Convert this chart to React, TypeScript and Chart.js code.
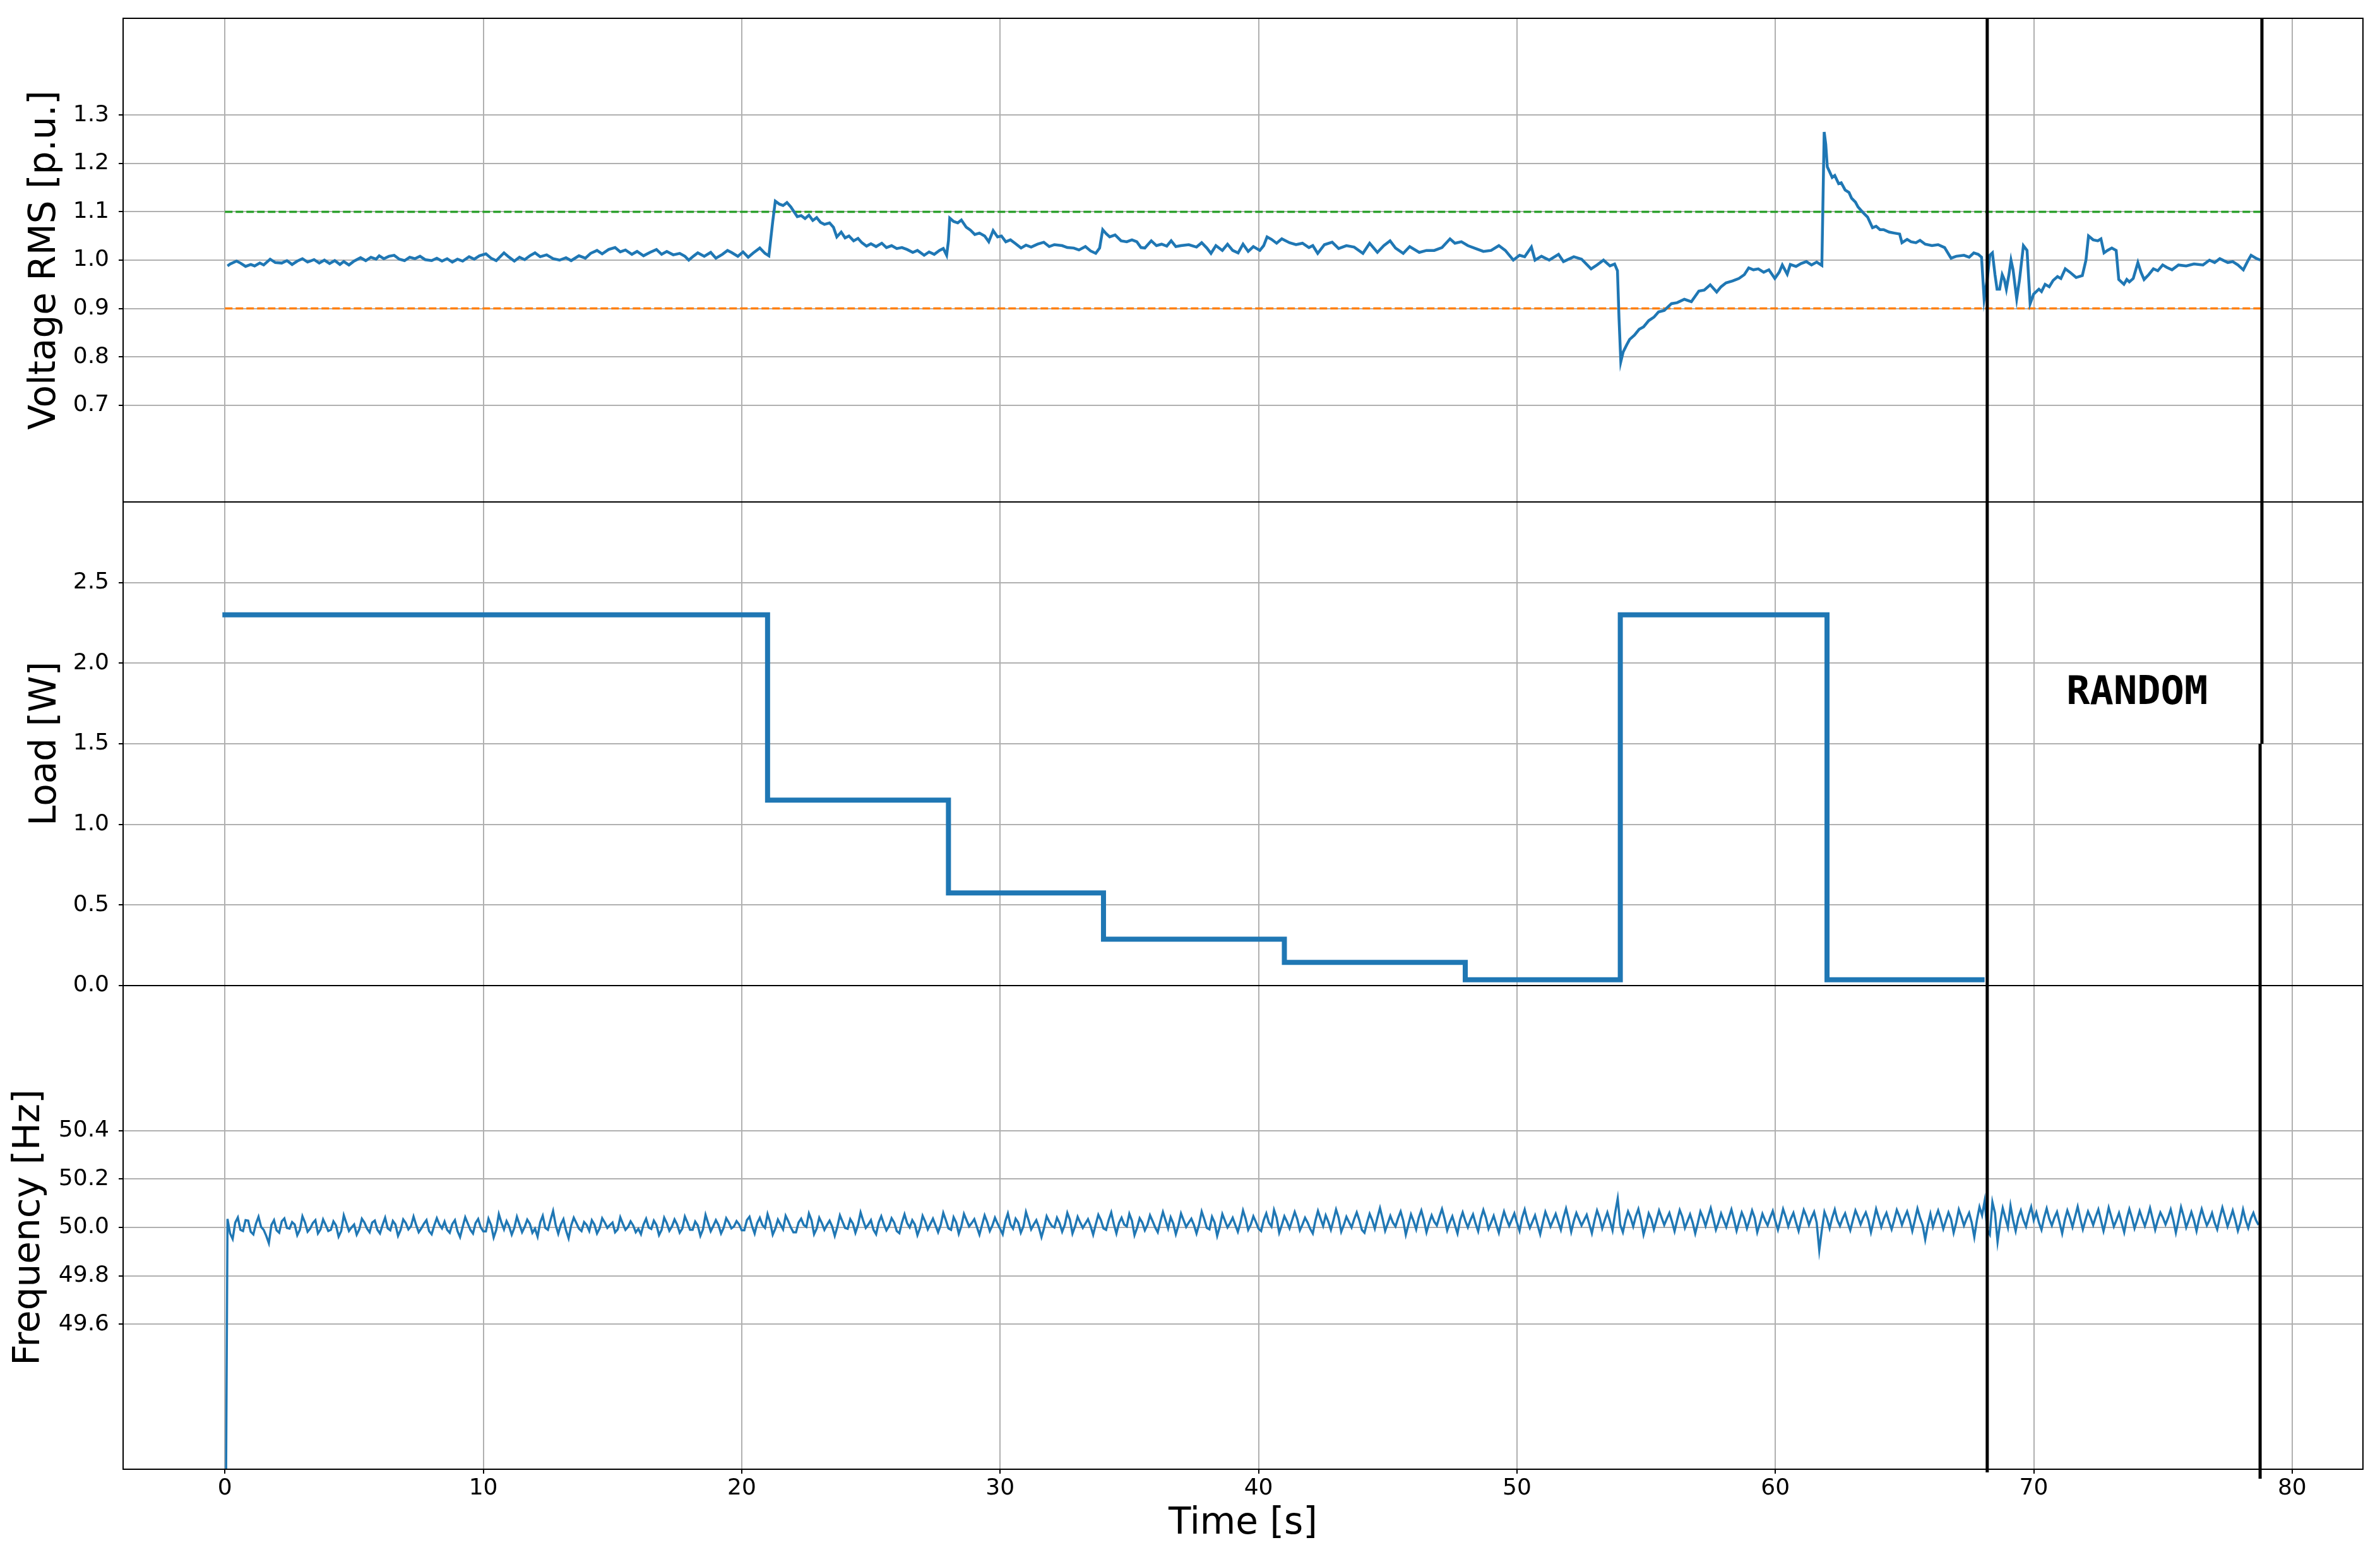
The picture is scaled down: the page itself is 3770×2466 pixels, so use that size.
import React, { useEffect, useRef } from 'react';
import { Chart, registerables } from 'chart.js';

Chart.register(...registerables);

// ---------- axis ticks ----------
const X_TICKS = [0, 10, 20, 30, 40, 50, 60, 70, 80];
const VOLTAGE_TICKS = [0.7, 0.8, 0.9, 1.0, 1.1, 1.2, 1.3];
const LOAD_TICKS = [0, 0.5, 1.0, 1.5, 2.0, 2.5];
const FREQ_TICKS = [49.6, 49.8, 50.0, 50.2, 50.4];

// ---------- voltage limits ----------
const VOLTAGE_UPPER = 1.1;
const VOLTAGE_LOWER = 0.9;
const LIMIT_SPAN = [0, 78.8];

// ---------- load steps ----------
const LOAD_STEP_TIMES = [0, 21, 28, 34, 41, 48, 54, 62];
const LOAD_STEP_VALUES = [2.3, 1.15, 0.575, 0.2875, 0.144, 0.036, 2.3, 0.036];
const LOAD_END_TIME = 68;

// ---------- random window markers ----------
const RANDOM_WINDOW = [68.2, 78.83];
const RANDOM_LABEL = 'RANDOM';

// ---------- voltage RMS [time s, p.u.] ----------
const voltage: [number, number][] = [
  [0.1, 0.988], [0.2, 0.992], [0.45, 0.998], [0.6, 0.994], [0.8, 0.987], [1.0, 0.991], [1.15, 0.988], [1.35, 0.994],
  [1.5, 0.99], [1.75, 1.002], [1.95, 0.995], [2.2, 0.994], [2.4, 0.999], [2.6, 0.991], [2.8, 0.998], [3.0, 1.003],
  [3.2, 0.996], [3.45, 1.001], [3.65, 0.994], [3.85, 1.0], [4.05, 0.993], [4.25, 0.999], [4.45, 0.991], [4.6, 0.997],
  [4.8, 0.99], [5.0, 0.998], [5.25, 1.005], [5.45, 0.999], [5.65, 1.006], [5.85, 1.002], [5.97, 1.009], [6.15, 1.003],
  [6.35, 1.008], [6.55, 1.01], [6.75, 1.002], [6.95, 0.999], [7.15, 1.006], [7.35, 1.003], [7.55, 1.008], [7.75, 1.001],
  [8.0, 0.999], [8.2, 1.004], [8.4, 0.998], [8.6, 1.003], [8.8, 0.996], [9.0, 1.002], [9.2, 0.998], [9.45, 1.007],
  [9.65, 1.002], [9.85, 1.009], [10.1, 1.013], [10.3, 1.004], [10.5, 0.999], [10.8, 1.015], [11.0, 1.006], [11.2, 0.998],
  [11.4, 1.006], [11.6, 1.001], [11.8, 1.009], [12.0, 1.015], [12.2, 1.007], [12.45, 1.011], [12.7, 1.003], [12.95, 1.0],
  [13.2, 1.005], [13.4, 0.999], [13.7, 1.009], [13.95, 1.004], [14.15, 1.014], [14.4, 1.02], [14.6, 1.013], [14.85, 1.022],
  [15.1, 1.026], [15.3, 1.017], [15.5, 1.021], [15.75, 1.012], [15.95, 1.018], [16.2, 1.009], [16.45, 1.016], [16.7, 1.022],
  [16.9, 1.012], [17.1, 1.018], [17.35, 1.011], [17.6, 1.014], [17.8, 1.008], [17.95, 1.0], [18.15, 1.009], [18.3, 1.015],
  [18.55, 1.008], [18.8, 1.016], [19.0, 1.004], [19.25, 1.012], [19.45, 1.02], [19.6, 1.016], [19.85, 1.008], [20.05, 1.017],
  [20.25, 1.006], [20.45, 1.015], [20.7, 1.025], [20.9, 1.014], [21.05, 1.009],
  [21.2, 1.08], [21.3, 1.122], [21.45, 1.116], [21.6, 1.113], [21.75, 1.119], [21.9, 1.11], [22.05, 1.098], [22.15, 1.09],
  [22.3, 1.092], [22.45, 1.086], [22.6, 1.093], [22.75, 1.082], [22.9, 1.088], [23.05, 1.078], [23.2, 1.074], [23.4, 1.077],
  [23.55, 1.068], [23.68, 1.048], [23.85, 1.058], [24.0, 1.046], [24.15, 1.05], [24.33, 1.04], [24.5, 1.045], [24.65, 1.036],
  [24.83, 1.029], [25.0, 1.034], [25.2, 1.028], [25.42, 1.035], [25.6, 1.026], [25.8, 1.03], [26.0, 1.024], [26.2, 1.026],
  [26.4, 1.022], [26.62, 1.016], [26.8, 1.02], [27.06, 1.01], [27.25, 1.017], [27.45, 1.012], [27.65, 1.02], [27.8, 1.024],
  [27.93, 1.01],
  [28.0, 1.04], [28.05, 1.087], [28.2, 1.08], [28.36, 1.077], [28.5, 1.083], [28.69, 1.068], [28.85, 1.062], [29.02, 1.053],
  [29.2, 1.056], [29.4, 1.05], [29.56, 1.038], [29.73, 1.061], [29.9, 1.048], [30.05, 1.05], [30.22, 1.038], [30.4, 1.042],
  [30.6, 1.034], [30.81, 1.025], [31.0, 1.031], [31.2, 1.027], [31.45, 1.033], [31.69, 1.037], [31.9, 1.028], [32.1, 1.032],
  [32.4, 1.03], [32.6, 1.026], [32.85, 1.025], [33.05, 1.021], [33.3, 1.028], [33.5, 1.019], [33.7, 1.014], [33.85, 1.025],
  [33.97, 1.063], [34.1, 1.055], [34.24, 1.048], [34.45, 1.052], [34.68, 1.04], [34.9, 1.038], [35.1, 1.042], [35.29, 1.038],
  [35.45, 1.026], [35.6, 1.025], [35.85, 1.04], [36.05, 1.03], [36.25, 1.033], [36.45, 1.029], [36.62, 1.04], [36.8, 1.028],
  [37.0, 1.03], [37.3, 1.032], [37.6, 1.027], [37.8, 1.036], [38.0, 1.025], [38.16, 1.014], [38.35, 1.03], [38.6, 1.02],
  [38.8, 1.033], [39.0, 1.02], [39.21, 1.015], [39.4, 1.033], [39.6, 1.018], [39.8, 1.028], [40.05, 1.02], [40.2, 1.03],
  [40.33, 1.048], [40.5, 1.043], [40.7, 1.035], [40.9, 1.044], [41.2, 1.036], [41.45, 1.032], [41.7, 1.035], [41.95, 1.026],
  [42.1, 1.03], [42.29, 1.014], [42.55, 1.032], [42.85, 1.037], [43.1, 1.024], [43.4, 1.03], [43.7, 1.027], [44.04, 1.014],
  [44.3, 1.035], [44.6, 1.016], [44.85, 1.03], [45.09, 1.04], [45.3, 1.025], [45.6, 1.014], [45.85, 1.028], [46.22, 1.016],
  [46.5, 1.02], [46.8, 1.02], [47.1, 1.026], [47.41, 1.044], [47.6, 1.035], [47.85, 1.038], [48.1, 1.03], [48.4, 1.024],
  [48.7, 1.018], [49.0, 1.02], [49.3, 1.03], [49.55, 1.02], [49.86, 1.0], [50.1, 1.01], [50.3, 1.007], [50.56, 1.027],
  [50.7, 1.0], [50.95, 1.008], [51.25, 1.0], [51.61, 1.012], [51.8, 0.997], [52.2, 1.007], [52.5, 1.002], [52.87, 0.982],
  [53.1, 0.99], [53.35, 1.0], [53.6, 0.988], [53.78, 0.992], [53.89, 0.978],
  [53.95, 0.88], [54.02, 0.79], [54.11, 0.81], [54.25, 0.825], [54.36, 0.836], [54.55, 0.845], [54.73, 0.857], [54.9, 0.862],
  [55.1, 0.875], [55.3, 0.882], [55.48, 0.893], [55.7, 0.896], [55.98, 0.91], [56.2, 0.912], [56.48, 0.919], [56.75, 0.914],
  [57.04, 0.936], [57.25, 0.938], [57.48, 0.949], [57.73, 0.934], [57.9, 0.945], [58.09, 0.953], [58.35, 0.957], [58.59, 0.962],
  [58.8, 0.97], [58.97, 0.984], [59.15, 0.98], [59.34, 0.982], [59.55, 0.975], [59.75, 0.98], [59.98, 0.962], [60.15, 0.975],
  [60.27, 0.99], [60.46, 0.971], [60.58, 0.991], [60.8, 0.987], [61.0, 0.993], [61.2, 0.997], [61.4, 0.99], [61.6, 0.996],
  [61.8, 0.989],
  [61.89, 1.265], [61.95, 1.24], [62.01, 1.193], [62.2, 1.171], [62.3, 1.175], [62.45, 1.158], [62.55, 1.16], [62.7, 1.145],
  [62.85, 1.14], [62.95, 1.128], [63.1, 1.12], [63.2, 1.11], [63.4, 1.098], [63.57, 1.089], [63.76, 1.067], [63.9, 1.07],
  [64.05, 1.063], [64.19, 1.063], [64.4, 1.058], [64.6, 1.056], [64.81, 1.054], [64.9, 1.036], [65.1, 1.043], [65.25, 1.038],
  [65.44, 1.036], [65.6, 1.041], [65.8, 1.033], [66.06, 1.03], [66.3, 1.032], [66.55, 1.026], [66.8, 1.004], [67.0, 1.008],
  [67.3, 1.01], [67.5, 1.006], [67.68, 1.015], [67.85, 1.012], [67.98, 1.006],
  [68.08, 0.919], [68.2, 0.96], [68.3, 1.01], [68.4, 1.015], [68.5, 0.97], [68.58, 0.94], [68.68, 0.94], [68.78, 0.97],
  [68.86, 0.96], [68.94, 0.94], [69.04, 0.97], [69.12, 1.0], [69.2, 0.98], [69.34, 0.92], [69.45, 0.96], [69.6, 1.03],
  [69.74, 1.02], [69.86, 0.91], [70.0, 0.93], [70.2, 0.94], [70.3, 0.935], [70.44, 0.95], [70.6, 0.945], [70.75, 0.958],
  [70.92, 0.966], [71.05, 0.962], [71.22, 0.982], [71.4, 0.975], [71.64, 0.964], [71.88, 0.968], [72.02, 1.0], [72.12, 1.05],
  [72.3, 1.042], [72.48, 1.04], [72.6, 1.044], [72.72, 1.015], [72.85, 1.02], [73.02, 1.025], [73.19, 1.02], [73.29, 0.96],
  [73.49, 0.95], [73.6, 0.96], [73.7, 0.955], [73.85, 0.962], [74.03, 0.995], [74.15, 0.975], [74.27, 0.96], [74.45, 0.97],
  [74.63, 0.982], [74.8, 0.978], [74.99, 0.99], [75.15, 0.985], [75.35, 0.98], [75.6, 0.99], [75.9, 0.988], [76.2, 0.992],
  [76.55, 0.99], [76.8, 1.0], [77.0, 0.995], [77.2, 1.003], [77.51, 0.995], [77.7, 0.997], [77.9, 0.99], [78.11, 0.98],
  [78.3, 1.0], [78.41, 1.01], [78.6, 1.004], [78.77, 1.0],
];

// ---------- frequency [Hz], sampled every 0.1 s from t = 0.1 s ----------
const FREQ_START: [number, number] = [0.02, 48.5];
const FREQ_T0 = 0.1;
const FREQ_DT = 0.1;
const frequency: number[] = [
  50.035, 49.975, 49.952, 50.020, 50.041, 49.990, 49.985, 50.030, 50.028, 49.982, 49.971, 50.015, 50.044, 50.002, 49.990, 49.965, 49.935, 50.010, 50.030, 49.988,
  49.978, 50.025, 50.037, 49.998, 49.995, 50.022, 50.012, 49.968, 49.990, 50.046, 50.020, 49.982, 49.995, 50.018, 50.030, 49.975, 49.992, 50.033, 50.010, 49.985,
  49.990, 50.025, 50.008, 49.962, 49.985, 50.050, 50.018, 49.985, 50.000, 50.012, 49.970, 49.992, 50.036, 50.020, 49.995, 49.980, 50.020, 50.028, 49.990, 49.975,
  50.010, 50.040, 49.996, 49.988, 50.027, 50.012, 49.965, 49.990, 50.033, 50.018, 49.992, 50.005, 50.045, 50.010, 49.980, 49.996, 50.015, 50.030, 49.985, 49.972,
  50.008, 50.038, 50.012, 49.996, 50.024, 49.990, 49.978, 50.014, 50.030, 49.985, 49.960, 50.002, 50.042, 50.016, 49.990, 49.975, 50.018, 50.035, 50.000, 49.984,
  49.984, 50.036, 50.010, 49.958, 49.990, 50.055, 50.020, 49.992, 50.026, 50.004, 49.970, 49.998, 50.044, 50.012, 49.980, 50.002, 50.032, 50.015, 49.978, 49.995,
  49.962, 50.020, 50.048, 49.998, 49.990, 50.030, 50.068, 50.010, 49.974, 50.012, 50.034, 49.988, 49.955, 50.008, 50.040, 50.018, 49.995, 49.985, 50.022, 50.010,
  49.985, 50.030, 50.012, 49.975, 49.996, 50.038, 50.020, 49.998, 50.010, 50.020, 49.980, 49.992, 50.042, 50.015, 49.990, 50.002, 50.025, 50.008, 49.980, 49.994,
  49.972, 50.012, 50.036, 50.000, 49.994, 50.028, 50.010, 49.968, 49.990, 50.040, 50.018, 49.986, 50.004, 50.033, 50.012, 49.978, 49.995, 50.045, 50.020, 49.990,
  49.990, 50.024, 50.008, 49.965, 49.992, 50.052, 50.018, 49.984, 50.006, 50.030, 50.010, 49.975, 49.998, 50.038, 50.020, 49.996, 50.004, 50.026, 50.012, 49.988,
  49.988, 50.030, 50.044, 50.005, 49.975, 50.018, 50.040, 50.010, 49.998, 50.055, 50.022, 49.970, 49.995, 50.032, 50.012, 49.992, 50.048, 50.026, 50.000, 49.980,
  49.980, 50.020, 50.036, 50.010, 50.002, 50.058, 50.030, 49.972, 49.995, 50.040, 50.018, 49.990, 50.010, 50.028, 50.004, 49.965, 50.002, 50.050, 50.024, 49.998,
  49.994, 50.034, 50.016, 49.978, 50.010, 50.062, 50.028, 49.998, 50.012, 50.030, 49.990, 49.972, 50.020, 50.046, 50.014, 49.988, 50.006, 50.038, 50.020, 49.985,
  49.976, 50.020, 50.054, 50.018, 50.000, 50.030, 50.012, 49.968, 49.998, 50.048, 50.024, 49.992, 50.014, 50.036, 50.008, 49.980, 50.010, 50.060, 50.030, 49.996,
  49.990, 50.042, 50.020, 49.974, 50.006, 50.056, 50.030, 50.004, 50.018, 50.034, 50.002, 49.970, 50.010, 50.050, 50.022, 49.985, 50.008, 50.040, 50.016, 49.994,
  49.972, 50.025, 50.058, 50.012, 49.995, 50.036, 50.020, 49.978, 50.004, 50.064, 50.030, 49.992, 50.012, 50.030, 50.000, 49.960, 49.998, 50.046, 50.024, 50.006,
  50.000, 50.040, 50.018, 49.982, 50.010, 50.060, 50.032, 49.975, 50.004, 50.044, 50.020, 49.998, 50.016, 50.034, 50.006, 49.970, 50.012, 50.052, 50.030, 49.996,
  49.990, 50.030, 50.062, 50.014, 49.975, 50.018, 50.040, 50.012, 50.004, 50.056, 50.028, 49.968, 49.998, 50.038, 50.020, 49.988, 50.010, 50.050, 50.026, 50.000,
  49.980, 50.024, 50.064, 50.030, 49.996, 50.042, 50.016, 49.972, 50.008, 50.058, 50.030, 50.002, 50.020, 50.036, 50.010, 49.975, 50.012, 50.066, 50.034, 49.998,
  49.992, 50.044, 50.020, 49.965, 50.004, 50.055, 50.028, 50.000, 50.018, 50.040, 50.010, 49.982, 50.020, 50.070, 50.036, 49.990, 50.012, 50.046, 50.022, 49.995,
  49.985, 50.030, 50.058, 50.020, 50.004, 50.072, 50.040, 49.978, 50.010, 50.046, 50.024, 49.996, 50.030, 50.064, 50.034, 49.988, 50.012, 50.040, 50.020, 49.994,
  49.975, 50.028, 50.068, 50.036, 50.006, 50.050, 50.024, 49.990, 50.030, 50.074, 50.040, 49.982, 50.010, 50.044, 50.022, 50.000, 50.034, 50.062, 50.030, 49.990,
  49.978, 50.020, 50.056, 50.030, 49.995, 50.040, 50.080, 50.036, 49.986, 50.016, 50.048, 50.020, 50.004, 50.038, 50.066, 50.028, 49.970, 50.012, 50.054, 50.026,
  49.992, 50.040, 50.070, 50.030, 49.980, 50.018, 50.050, 50.024, 50.008, 50.044, 50.076, 50.036, 49.988, 50.020, 50.046, 50.010, 49.975, 50.030, 50.062, 50.028,
  50.000, 50.030, 50.054, 50.016, 49.984, 50.036, 50.072, 50.040, 49.994, 50.020, 50.048, 50.012, 49.978, 50.026, 50.066, 50.034, 50.006, 50.032, 50.058, 50.020,
  49.986, 50.040, 50.074, 50.030, 49.998, 50.024, 50.050, 50.010, 49.972, 50.020, 50.064, 50.036, 50.004, 50.030, 50.056, 50.022, 49.990, 50.040, 50.078, 50.034,
  49.982, 50.026, 50.060, 50.034, 50.008, 50.030, 50.052, 50.014, 49.976, 50.028, 50.070, 50.040, 49.996, 50.030, 50.062, 50.026, 49.988, 50.060, 50.120, 50.010,
  49.980, 50.030, 50.066, 50.040, 50.004, 50.046, 50.076, 50.030, 49.970, 50.010, 50.058, 50.034, 49.992, 50.030, 50.070, 50.040, 50.010, 50.036, 50.060, 50.024,
  49.984, 50.030, 50.072, 50.044, 49.998, 50.026, 50.054, 50.020, 49.975, 50.018, 50.066, 50.040, 50.006, 50.044, 50.080, 50.036, 49.990, 50.020, 50.058, 50.030,
  50.002, 50.040, 50.074, 50.032, 49.986, 50.024, 50.062, 50.036, 49.996, 50.030, 50.070, 50.040, 49.980, 50.016, 50.056, 50.030, 50.008, 50.040, 50.068, 50.026,
  49.990, 50.030, 50.076, 50.044, 50.004, 50.036, 50.060, 50.020, 49.985, 50.030, 50.072, 50.046, 50.010, 50.040, 50.064, 50.020, 49.905, 49.990, 50.064, 50.036,
  49.996, 50.040, 50.074, 50.030, 50.006, 50.036, 50.058, 50.020, 49.988, 50.030, 50.070, 50.044, 50.012, 50.040, 50.062, 50.030, 49.980, 50.026, 50.076, 50.040,
  50.002, 50.036, 50.060, 50.024, 49.992, 50.030, 50.072, 50.046, 50.010, 50.040, 50.066, 50.030, 49.985, 50.030, 50.078, 50.040, 50.010, 49.950, 50.010, 50.056,
  50.004, 50.040, 50.070, 50.036, 49.994, 50.028, 50.062, 50.034, 49.978, 50.020, 50.074, 50.044, 50.008, 50.036, 50.060, 50.020, 49.960, 50.030, 50.085, 50.050,
  50.110, 49.990, 49.970, 50.105, 50.060, 49.940, 50.020, 50.080, 50.040, 50.000, 50.090, 50.030, 49.985, 50.040, 50.070, 50.030, 50.004, 50.050, 50.085, 50.030,
  50.062, 50.020, 49.990, 50.040, 50.078, 50.036, 50.008, 50.040, 50.064, 50.020, 49.975, 50.030, 50.070, 50.040, 50.002, 50.044, 50.086, 50.036, 49.992, 50.030,
  50.066, 50.040, 50.010, 50.044, 50.074, 50.030, 49.985, 50.030, 50.082, 50.044, 50.004, 50.030, 50.060, 50.020, 49.980, 50.036, 50.076, 50.040, 49.996, 50.030,
  50.068, 50.036, 50.006, 50.040, 50.080, 50.036, 49.990, 50.030, 50.062, 50.040, 50.012, 50.040, 50.074, 50.030, 49.978, 50.030, 50.084, 50.046, 50.000, 50.030,
  50.064, 50.030, 49.985, 50.036, 50.076, 50.040, 50.008, 50.030, 50.060, 50.020, 49.992, 50.040, 50.082, 50.044, 50.004, 50.036, 50.070, 50.030, 49.986, 50.020,
  50.074, 50.030, 49.998, 50.036, 50.060, 50.030, 50.010,
];

const BLUE = '#1f77b4';
const GRID = '#b0b0b0';
const FONT = 'DejaVu Sans';

function buildLoad() {
  const pts: { x: number; y: number }[] = [];
  LOAD_STEP_TIMES.forEach((t, i) => {
    const end = i + 1 < LOAD_STEP_TIMES.length ? LOAD_STEP_TIMES[i + 1] : LOAD_END_TIME;
    pts.push({ x: t, y: LOAD_STEP_VALUES[i] });
    pts.push({ x: end, y: LOAD_STEP_VALUES[i] });
  });
  return pts;
}

const overlayPlugin = {
  id: 'overlay',
  afterDraw(chart: any) {
    const { ctx, chartArea: a, scales } = chart;
    const x = scales.x;
    const yV = scales.yV;
    const yL = scales.yL;
    const line = (x1: number, y1: number, x2: number, y2: number) => {
      ctx.beginPath();
      ctx.moveTo(x1, y1);
      ctx.lineTo(x2, y2);
      ctx.stroke();
    };
    ctx.save();
    // panel frames
    ctx.strokeStyle = '#000';
    ctx.lineWidth = 2;
    ctx.strokeRect(a.left, a.top, a.right - a.left, a.bottom - a.top);
    line(a.left, yV.bottom, a.right, yV.bottom);
    line(a.left, yL.bottom, a.right, yL.bottom);
    // random window markers
    ctx.lineWidth = 5;
    ctx.lineCap = 'butt';
    const xl = x.getPixelForValue(RANDOM_WINDOW[0]);
    line(xl, a.top, xl, a.bottom + 5);
    const yBreak = yL.getPixelForValue(1.5);
    const xr1 = x.getPixelForValue(RANDOM_WINDOW[1]);
    line(xr1, a.top, xr1, yBreak);
    const xr2 = x.getPixelForValue(RANDOM_WINDOW[1] - 0.07);
    line(xr2, yBreak, xr2, a.bottom + 15);
    // label
    ctx.font = `bold 62px "DejaVu Sans Mono"`;
    ctx.fillStyle = '#000';
    ctx.textAlign = 'center';
    ctx.textBaseline = 'middle';
    ctx.fillText(RANDOM_LABEL, x.getPixelForValue(74), yL.getPixelForValue(1.81));
    ctx.restore();
  },
};

function yAxis(weight: number, min: number, max: number, ticks: number[], title: string, titlePad: number) {
  return {
    type: 'linear',
    position: 'left',
    stack: 'panels',
    stackWeight: 1,
    weight,
    min,
    max,
    afterBuildTicks: (s: any) => {
      s.ticks = ticks.map((v) => ({ value: v }));
    },
    afterFit: (s: any) => {
      s.width = 195;
      s.paddingTop = 0;
      s.paddingBottom = 0;
    },
    ticks: {
      font: { family: FONT, size: 36 },
      color: '#000',
      padding: 15,
      autoSkip: false,
      callback: (v: any) => Number(v).toFixed(1),
    },
    grid: { color: GRID, lineWidth: 2, drawTicks: true, tickLength: 7, tickColor: '#000', tickWidth: 2 },
    border: { display: false },
    title: {
      display: true,
      text: title,
      color: '#000',
      font: { family: FONT, size: 58 },
      padding: { top: titlePad, bottom: 0 },
    },
  };
}

export default function App() {
  const ref = useRef<HTMLCanvasElement | null>(null);

  useEffect(() => {
    if (!ref.current) return;
    Chart.defaults.font.family = FONT;
    const voltData = voltage.map(([x, y]) => ({ x, y }));
    const upper = LIMIT_SPAN.map((x) => ({ x, y: VOLTAGE_UPPER }));
    const lower = LIMIT_SPAN.map((x) => ({ x, y: VOLTAGE_LOWER }));
    const freqData = [
      { x: FREQ_START[0], y: FREQ_START[1] },
      ...frequency.map((y, i) => ({ x: FREQ_T0 + FREQ_DT * i, y })),
    ];

    const chart = new Chart(ref.current, {
      type: 'line',
      data: {
        datasets: [
          { label: 'Voltage RMS', data: voltData, yAxisID: 'yV', borderColor: BLUE, borderWidth: 4.5, pointRadius: 0 },
          { label: 'Upper limit', data: upper, yAxisID: 'yV', borderColor: '#2ca02c', borderWidth: 3.5, borderDash: [12, 5], pointRadius: 0 },
          { label: 'Lower limit', data: lower, yAxisID: 'yV', borderColor: '#ff7f0e', borderWidth: 3.5, borderDash: [12, 5], pointRadius: 0 },
          { label: 'Load', data: buildLoad(), yAxisID: 'yL', borderColor: BLUE, borderWidth: 8, pointRadius: 0, borderCapStyle: 'square', borderJoinStyle: 'miter' },
          { label: 'Frequency', data: freqData, yAxisID: 'yF', borderColor: BLUE, borderWidth: 3.5, pointRadius: 0 },
        ],
      } as any,
      options: {
        animation: false,
        responsive: false,
        devicePixelRatio: 1,
        layout: { padding: { top: 29, right: 27, left: 0, bottom: 0 } },
        plugins: { legend: { display: false }, tooltip: { enabled: false } },
        elements: { point: { radius: 0 }, line: { tension: 0 } },
        scales: {
          x: {
            type: 'linear',
            position: 'bottom',
            min: -3.94,
            max: 82.74,
            afterBuildTicks: (s: any) => {
              s.ticks = X_TICKS.map((v) => ({ value: v }));
            },
            afterFit: (s: any) => {
              s.height = 139;
              s.paddingLeft = 0;
              s.paddingRight = 0;
            },
            ticks: {
              font: { family: FONT, size: 36 },
              color: '#000',
              padding: 2,
              maxRotation: 0,
              autoSkip: false,
              callback: (v: any) => String(v),
            },
            grid: { color: GRID, lineWidth: 2, drawTicks: true, tickLength: 7, tickColor: '#000', tickWidth: 2 },
            border: { display: false },
            title: {
              display: true,
              text: 'Time [s]',
              color: '#000',
              font: { family: FONT, size: 58 },
              padding: { top: 0, bottom: 17 },
            },
          },
          yV: yAxis(3, 0.5, 1.5, VOLTAGE_TICKS, 'Voltage RMS [p.u.]', 37),
          yL: yAxis(2, 0, 3, LOAD_TICKS, 'Load [W]', 38),
          yF: yAxis(1, 49, 51, FREQ_TICKS, 'Frequency [Hz]', 12),
        } as any,
      },
      plugins: [overlayPlugin],
    });
    return () => chart.destroy();
  }, []);

  return (
    <div style={{ position: 'absolute', left: 0, top: 0, width: 3770, height: 2466, background: '#fff' }}>
      <canvas ref={ref} width={3770} height={2466} style={{ display: 'block', width: 3770, height: 2466 }} />
    </div>
  );
}
